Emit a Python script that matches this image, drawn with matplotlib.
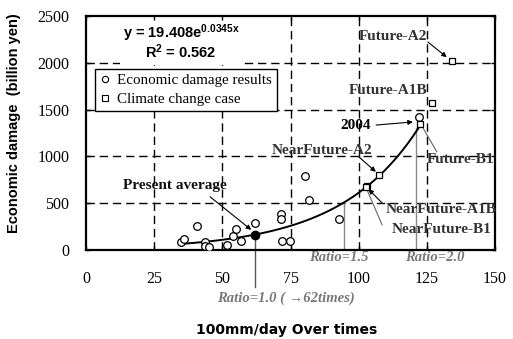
import numpy as np
import matplotlib
matplotlib.use("Agg")
import matplotlib.pyplot as plt
from matplotlib.lines import Line2D
from matplotlib.patches import Rectangle

plt.rcParams['mathtext.fontset'] = 'custom'
plt.rcParams['mathtext.rm'] = 'Liberation Sans:bold'
plt.rcParams['mathtext.it'] = 'Liberation Sans:bold'
plt.rcParams['mathtext.bf'] = 'Liberation Sans:bold'

# ---- data ----
damage_x = [34.8, 36.1, 40.8, 43.8, 43.8, 45.0, 51.8, 53.9, 54.9, 57.0, 61.9,
            71.8, 71.6, 71.6, 74.9, 80.4, 81.7, 92.7, 122.1]
damage_y = [89, 114, 253, 89, 43, 32, 53, 146, 228, 96, 288,
            93, 385, 331, 93, 787, 538, 331, 1417]
present_x = [62.0]
present_y = [165]
climate_names = ["Future-A2", "Future-A1B", "Future-B1", "NearFuture-A2",
                 "NearFuture-A1B", "NearFuture-B1"]
climate_x = [134.3, 127.0, 122.6, 107.5, 102.9, 102.6]
climate_y = [2019, 1570, 1346, 801, 680, 672]
fit_a, fit_b = 19.408, 0.0345
fit_range = [35.0, 122.6]
ratio_x = [62.0, 94.7, 120.9]
ratio_top = [165, 502, 1300]
ratio_labels = ["Ratio=1.0 ( \u219262times)", "Ratio=1.5", "Ratio=2.0"]
xticks = [0, 25, 50, 75, 100, 125, 150]
yticks = [0, 500, 1000, 1500, 2000, 2500]

serif = ['Liberation Serif', 'DejaVu Serif']
sans = ['Liberation Sans', 'DejaVu Sans']

fig = plt.figure(figsize=(5.13, 3.39), dpi=100)
ax = fig.add_axes([86/513, 1-250/339, 409/513, 234/339])
ax.set_xlim(0, 150)
ax.set_ylim(0, 2500)

dash = (0, (6, 3.5))
for gx in [25, 50, 75, 100, 125]:
    ax.axvline(gx, color='black', lw=1.0, ls=dash, zorder=1)
for gy in [500, 1000, 1500, 2000]:
    ax.axhline(gy, color='black', lw=1.0, ls=dash, zorder=1)

# white box behind the equation
ax.add_patch(Rectangle((12.5, 1976), 45.1, 524, facecolor='white', edgecolor='none', zorder=1.5))

# ratio lines
ax.plot([ratio_x[0]]*2, [-395, ratio_top[0]], color='#555555', lw=1.0, clip_on=False, zorder=2)
ax.plot([ratio_x[1]]*2, [0, ratio_top[1]], color='#888888', lw=1.0, zorder=2)
ax.plot([ratio_x[2]]*2, [0, ratio_top[2]], color='#888888', lw=1.0, zorder=2)

# fit curve
xf = np.linspace(fit_range[0], fit_range[1], 200)
ax.plot(xf, fit_a*np.exp(fit_b*xf), color='black', lw=1.4, zorder=3)

ax.plot(damage_x, damage_y, 'o', mfc='white', mec='black', ms=5.5, mew=0.9, ls='none', zorder=4)
ax.plot(climate_x, climate_y, 's', mfc='white', mec='black', ms=5.0, mew=0.9, ls='none', zorder=4)
ax.plot(present_x, present_y, 'o', color='black', ms=6, zorder=5)

for s in ax.spines.values():
    s.set_linewidth(1.6)
ax.set_xticks(xticks)
ax.set_yticks(yticks)
ax.tick_params(direction='in', length=3, width=1, top=True, right=True)
ax.tick_params(axis='x', pad=15)
ax.tick_params(axis='y', pad=12)
for lab in ax.get_xticklabels() + ax.get_yticklabels():
    lab.set_family(serif)
    lab.set_fontsize(11.5)

ax.set_ylabel("Economic damage  (billion yen)", family=sans, weight='bold', fontsize=10.5)
ax.yaxis.set_label_coords(-0.159, 0.543)
fig.text(287/513, 1-330/339, "100mm/day Over times", family=['DejaVu Sans'], weight='bold',
         fontsize=10, ha='center', va='center')

# equation
ax.text(34.8, 2315, r"y = 19.408e$^{0.0345x}$", family=sans, weight='bold', fontsize=10.5,
        ha='center', va='center', zorder=6)
ax.text(34.8, 2118, r"R$^{2}$ = 0.562", family=sans, weight='bold', fontsize=10.5,
        ha='center', va='center', zorder=6)

# legend
handles = [Line2D([], [], marker='o', ls='none', mfc='white', mec='black', ms=4.5, mew=0.8),
           Line2D([], [], marker='s', ls='none', mfc='white', mec='black', ms=4.5, mew=0.8)]
leg = ax.legend(handles, ["Economic damage results", "Climate change case"],
                loc='upper left', bbox_to_anchor=(0.022, 0.775), prop={'family': serif, 'size': 10.8},
                frameon=True, fancybox=False, edgecolor='black', framealpha=1,
                handlelength=0.6, handletextpad=0.5, borderpad=0.35, labelspacing=0.35,
                borderaxespad=0)
leg.get_frame().set_linewidth(1.0)

ann = dict(family=serif, weight='bold', fontsize=11, ha='center', va='center')
blk = dict(arrowstyle='-|>', color='black', lw=0.8, mutation_scale=7, shrinkA=0, shrinkB=0)
gry = dict(arrowstyle='-', color='#666666', lw=0.8, shrinkA=0, shrinkB=0)

ax.text(112.6, 2286, climate_names[0], color='#333333', **ann)
ax.annotate("", xy=(132.3, 2060), xytext=(125.4, 2222), arrowprops=blk)
ax.text(110.8, 1699, climate_names[1], color='#333333', **ann)
ax.text(99, 1325, "2004", color='black', **ann)
ax.annotate("", xy=(119.9, 1368), xytext=(106.4, 1335), arrowprops=blk)
ax.text(137.5, 962, climate_names[2], color='#333333', clip_on=False, **ann)
ax.annotate("", xy=(123.6, 1303), xytext=(128.7, 1047), arrowprops=gry)
ax.text(86.7, 1061, climate_names[3], color='#333333', **ann)
ax.annotate("", xy=(106.3, 835), xytext=(100.1, 994), arrowprops=blk)
ax.text(130.4, 438, climate_names[4], color='#333333', clip_on=False, **ann)
ax.annotate("", xy=(103.6, 650), xytext=(108.6, 502), arrowprops=blk)
ax.text(130.4, 224, climate_names[5], color='#333333', clip_on=False, **ann)
ax.annotate("", xy=(103.1, 641), xytext=(108.6, 267), arrowprops=gry)
ax.text(32.6, 694, "Present average", color='#111111', **ann)
ax.annotate("", xy=(60.6, 215), xytext=(45.5, 569), arrowprops=blk)

rat = dict(family=serif, weight='bold', style='italic', fontsize=10.5, color='#777777',
           ha='center', va='center', clip_on=False)
ax.text(73.3, -515, ratio_labels[0], **rat)
ax.text(92.8, -85, ratio_labels[1], **rat)
ax.text(128.0, -85, ratio_labels[2], **rat)

fig.savefig("out.png", dpi=100)
